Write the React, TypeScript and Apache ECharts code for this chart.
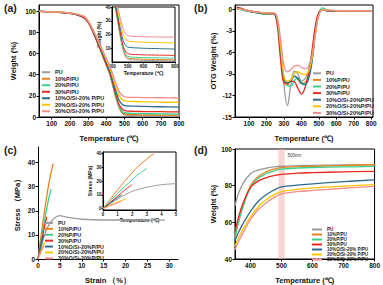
import React, { useEffect, useRef } from 'react';
import * as echarts from 'echarts';

const FONT = "'Liberation Sans', Arial, Helvetica, sans-serif";

const namesA = ['PU', '10%P/PU', '20%P/PU', '30%P/PU', '10%O/Si-20% P/PU', '20%O/Si-20% P/PU', '30%O/Si-20% P/PU'];
const namesB = ['PU', '10%P/PU', '20%P/PU', '30%P/PU', '10%O/Si-20%P/PU', '20%O/Si-20%P/PU', '30%O/Si-20%P/PU'];
const colors = ['#9b9b9b', '#e8821e', '#3dd08c', '#e82a1f', '#2d6a8c', '#f7c600', '#f48c8c'];

// (a) TGA
const tgaT = [30, 100, 200, 250, 280, 300, 320, 350, 380, 400, 420, 450, 470, 490, 510, 550, 600, 700, 800];
const tgaPU = [100, 99.6, 98, 96, 93.5, 89.5, 83, 71, 58, 49, 40, 20, 9, 3, 1.8, 1.5, 1.2, 1.0, 0.8];
const tga10P = [100, 99.6, 98.2, 96.5, 94.5, 90.5, 84, 72, 59, 50, 41, 21, 10, 4, 2.6, 2.3, 2.0, 1.8, 1.6];
const tga20P = [100, 99.6, 98.2, 96.5, 94, 90, 83.5, 71.5, 58.5, 49.5, 40.5, 21, 10.5, 5, 3.8, 3.4, 3.2, 3.0, 2.8];
const tga30P = [100, 99.6, 98, 96, 93.5, 89.5, 83, 71, 58.5, 50, 41.5, 23, 12, 7, 5.8, 5.4, 5.2, 5.0, 4.8];
const tga10OSi = [100, 99.6, 98.3, 96.5, 94.5, 90.5, 84, 72.5, 60, 52, 43.5, 26, 16, 11.5, 10.6, 10.3, 10.0, 9.7, 9.4];
const tga20OSi = [100, 99.6, 98.5, 97, 95, 91, 85, 74, 62, 54, 46, 30, 20.5, 16, 15, 14.7, 14.4, 14.1, 13.8];
const tga30OSi = [100, 99.6, 98.5, 97, 95, 91, 85, 74.5, 63, 55.5, 48, 33, 24.5, 20, 18.9, 18.6, 18.4, 18.2, 18];
const tgaAll = [tgaPU, tga10P, tga20P, tga30P, tga10OSi, tga20OSi, tga30OSi];

// (b) DTG
const dtgT = [30, 60, 100, 150, 200, 240, 260, 280, 300, 320, 340, 360, 380, 400, 420, 440, 460, 480, 500, 520, 550, 600, 650, 700, 750, 800];
const dtgPU = [0.3, 0.1, -0.2, -0.4, -0.5, -0.5, -1.2, -5, -10.5, -13.4, -10.5, -8.6, -9.0, -10.0, -9.7, -8.6, -6.0, -2.5, -0.4, -0.1, -0.2, -0.3, -0.2, -0.3, -0.2, -0.2];
const dtg10P = [0.2, 0.0, -0.3, -0.5, -0.7, -0.6, -1.6, -6, -10.2, -10.5, -9.8, -9.3, -9.8, -10.3, -10.2, -9.3, -6.8, -2.8, -0.5, -0.1, -0.2, -0.2, -0.2, -0.2, -0.2, -0.2];
const dtg20P = [0.1, -0.1, -0.3, -0.5, -0.7, -0.6, -1.4, -5.5, -9.8, -10.6, -10.7, -9.9, -9.6, -10.2, -10.4, -9.5, -7.2, -3.2, -0.6, 0.2, -0.1, -0.2, -0.2, -0.2, -0.2, -0.2];
const dtg30P = [0.3, 0.1, -0.2, -0.4, -0.6, -0.6, -1.9, -6.8, -10.2, -10.3, -10.0, -10.1, -11.0, -11.8, -11.0, -9.0, -6.0, -2.3, -0.4, -0.1, -0.2, -0.2, -0.3, -0.2, -0.2, -0.2];
const dtg10OSi = [0.2, 0.0, -0.3, -0.5, -0.6, -0.6, -1.4, -5.5, -9.5, -10.2, -10.0, -9.3, -9.6, -10.3, -10.5, -9.8, -7.5, -3.5, -0.7, -0.1, -0.2, -0.2, -0.2, -0.2, -0.2, -0.2];
const dtg20OSi = [0.1, 0.0, -0.2, -0.4, -0.5, -0.5, -1.1, -5, -9.3, -10.0, -9.8, -8.9, -8.7, -9.0, -9.1, -8.7, -7.0, -3.5, -0.8, -0.1, -0.1, -0.2, -0.2, -0.2, -0.2, -0.2];
const dtg30OSi = [0.1, 0.0, -0.2, -0.4, -0.5, -0.5, -1.0, -4, -7.8, -8.7, -8.4, -7.9, -7.8, -8.1, -8.3, -8.0, -6.5, -3.3, -0.8, -0.1, -0.1, -0.2, -0.2, -0.2, -0.2, -0.2];
const dtgAll = [dtgPU, dtg10P, dtg20P, dtg30P, dtg10OSi, dtg20OSi, dtg30OSi];

// (c) stress-strain [strain %, stress MPa]
const ssPU = [[0, 0], [0.5, 3.5], [1, 7], [1.5, 10], [2, 12.5], [3, 15.5], [4, 17.3], [5, 18], [6, 17.6], [8, 17], [10, 16.5], [15, 16.2], [20, 16.2], [25, 16.1], [29, 16.1]];
const ss10P = [[0, 0], [0.5, 7], [1, 13.5], [1.5, 20], [2, 26], [2.5, 31.5], [3, 36], [3.3, 38.5], [3.5, 39.5]];
const ss20P = [[0, 0], [0.5, 5.5], [1, 11], [1.5, 16], [2, 21], [2.5, 25.5], [3, 29]];
const ss30P = [[0, 0], [0.5, 4.5], [1, 9], [1.5, 13.5], [2, 17.5]];
const ss10OSi = [[0, 0], [0.5, 4], [1, 8], [1.3, 10]];
const ss20OSi = [[0, 0], [0.5, 2.5], [1, 4.8], [1.6, 7]];
const ss30OSi = [[0, 0], [0.5, 2.2], [1, 4.2], [1.3, 5.5]];
const ssAll = [ssPU, ss10P, ss20P, ss30P, ss10OSi, ss20OSi, ss30OSi];

// (d)
const dT = [350, 360, 375, 400, 425, 450, 475, 500, 550, 600, 700, 800];
const dPU = [69, 75, 81, 86.5, 88.5, 89.5, 90.2, 90.6, 90.9, 91.1, 91.3, 91.5];
const d10P = [52, 60, 69, 80, 85, 87.5, 89, 89.8, 90.3, 90.6, 91, 91.4];
const d20P = [51, 59, 68, 79, 84, 86.5, 88, 89, 89.6, 89.9, 90.2, 90.5];
const d30P = [55, 62, 70, 79, 82.5, 84.3, 85.5, 86.2, 86.8, 87.1, 87.5, 87.8];
const d10OSi = [50, 54, 59, 66, 71.5, 75, 77.5, 79.3, 80.3, 81, 82.2, 83.2];
const d20OSi = [47, 51, 56, 63, 68.5, 72.3, 75, 76.8, 78, 78.8, 79.8, 80.6];
const d30OSi = [45, 49, 54, 61.5, 67, 70.5, 73.5, 75.5, 76.7, 77.4, 78.6, 79.6];
const dAll = [dPU, d10P, d20P, d30P, d10OSi, d20OSi, d30OSi];
const band = [490, 510];

const ticksA = [100, 200, 300, 400, 500, 600, 700, 800];
const ticksAy = [0, 20, 40, 60, 80, 100];
const ticksAinX = [400, 500, 600, 700, 800];
const ticksAinY = [10, 20, 30, 40];
const ticksBy = [-15, -12, -9, -6, -3, 0];
const ticksCx = [0, 5, 10, 15, 20, 25, 30];
const ticksCy = [0, 10, 20, 30, 40];
const ticksCinX = [0, 1, 2, 3, 4, 5];
const ticksDx = [400, 500, 600, 700, 800];
const ticksDy = [40, 60, 80, 100];

const zip = (xs: number[], ys: number[]) => xs.map((x, i) => [x, ys[i]]);

function axis(gridIndex: number, min: number, max: number, ticks: number[], name: string, nameGap: number, small = false) {
  return {
    type: 'value', gridIndex, min, max,
    splitLine: { show: false },
    axisLine: { show: true, onZero: false, lineStyle: { color: '#000', width: 1 } },
    axisTick: { show: true, length: small ? 1.5 : 2.5, customValues: ticks, lineStyle: { color: '#000', width: 1 } },
    axisLabel: { customValues: ticks, fontSize: small ? 4.5 : 6.5, fontWeight: 'bold', color: '#111', margin: small ? 1.5 : 3, fontFamily: FONT },
    name, nameGap, nameLocation: 'middle',
    nameTextStyle: { fontSize: small ? 5 : 7.5, fontWeight: 'bold', color: '#111', fontFamily: FONT },
  };
}

function legend(names: string[], left: number, top: number, fs: number, lh: number, w = 8) {
  return {
    orient: 'vertical', left, top, padding: 0, itemGap: 0, itemWidth: w, itemHeight: 2, icon: 'rect',
    data: names, selectedMode: false,
    textStyle: { fontSize: fs, lineHeight: lh, height: lh, fontWeight: 'bold', color: '#222', fontFamily: FONT, padding: 0 },
  };
}

const labelStyle = (text: string) => ({ text, fontSize: 10.5, fontWeight: 'bold', fontFamily: FONT, fill: '#222' });

const option: any = {
  animation: false,
  backgroundColor: '#fff',
  grid: [
    { left: 39, top: 5, width: 140, height: 112, show: true, borderColor: '#000', borderWidth: 1 },
    { left: 112, top: 7, width: 63, height: 55, show: true, borderColor: '#000', borderWidth: 1 },
    { left: 235, top: 5, width: 138, height: 112, show: true, borderColor: '#000', borderWidth: 1 },
    { left: 38, top: 147, width: 140, height: 114 },
    { left: 103, top: 152, width: 73, height: 58, show: true, borderColor: '#000', borderWidth: 1 },
    { left: 235, top: 149, width: 140, height: 111, show: true, borderColor: '#000', borderWidth: 1 },
  ],
  xAxis: [
    axis(0, 30, 800, ticksA, 'Temperature (℃)', 17),
    axis(1, 400, 800, ticksAinX, 'Temperature (℃)', 8, true),
    axis(2, 20, 810, ticksA, 'Temperature (℃)', 17),
    axis(3, 0, 32, ticksCx, 'Strain （%）', 17),
    axis(4, 0, 5, ticksCinX, 'Temperature (℃)', 7, true),
    axis(5, 350, 800, ticksDx, 'Temperature (℃)', 17),
  ],
  yAxis: [
    axis(0, 0, 106, ticksAy, 'Weight (%)', 22),
    axis(1, 0, 40, ticksAinY, 'Weight (%)', 9, true),
    axis(2, -15, 0.6, ticksBy, 'OTG Weight (%)', 18),
    axis(3, 0, 46.5, ticksCy, 'Stress （MPa）', 17),
    axis(4, -1, 41, ticksCy, 'Stress (MPa)', 8, true),
    axis(5, 40, 100, ticksDy, 'Weight (%)', 18),
  ],
  legend: [
    legend(namesA, 42, 69, 5.5, 6.5),
    legend(namesB, 313, 70, 5.5, 6.6),
    legend(namesB, 45, 220, 5.3, 5.9),
    legend(namesA, 312, 227, 4.6, 3.8, 10),
  ],
  graphic: [
    { type: 'text', left: 4, top: 2, style: labelStyle('(a)') },
    { type: 'text', left: 194, top: 2, style: labelStyle('(b)') },
    { type: 'text', left: 4, top: 144, style: labelStyle('(c)') },
    { type: 'text', left: 194, top: 144, style: labelStyle('(d)') },
  ],
  series: [] as any[],
};

const lineBase = (name: string, color: string, x: number, y: number, data: any[], w = 1.3, smooth: any = 0.3) => ({
  type: 'line', name, xAxisIndex: x, yAxisIndex: y, data, showSymbol: false, symbol: 'none', smooth,
  lineStyle: { color, width: w }, itemStyle: { color }, clip: true,
});

namesA.forEach((n, i) => option.series.push(lineBase(n, colors[i], 0, 0, zip(tgaT, tgaAll[i]))));
namesA.forEach((n, i) => option.series.push(lineBase(n, colors[i], 1, 1, zip(tgaT, tgaAll[i]), 1)));
namesB.forEach((n, i) => option.series.push(lineBase(n, colors[i], 2, 2, zip(dtgT, dtgAll[i]), 1.3, 0.4)));
namesB.forEach((n, i) => option.series.push(lineBase(n, colors[i], 3, 3, ssAll[i], 1.3, 0.3)));
namesB.forEach((n, i) => option.series.push(lineBase(n, colors[i], 4, 4, ssAll[i], 1, 0.3)));
namesA.forEach((n, i) => {
  const s: any = lineBase(n, colors[i], 5, 5, zip(dT, dAll[i]), 1.3, 0.4);
  if (i === 0) {
    s.markArea = {
      silent: true,
      itemStyle: { color: 'rgba(244,170,170,0.5)' },
      label: { show: true, position: [9, 4], formatter: '500nm', fontSize: 4.5, color: '#333', fontFamily: FONT },
      data: [[{ xAxis: band[0] }, { xAxis: band[1] }]],
    };
  }
  option.series.push(s);
});

export default function App() {
  const ref = useRef<HTMLDivElement>(null);
  useEffect(() => {
    const chart = echarts.init(ref.current!, null, { renderer: 'svg' });
    chart.setOption(option);
    return () => chart.dispose();
  }, []);
  return <div ref={ref} style={{ position: 'fixed', left: 0, top: 0, width: 383, height: 285, background: '#fff' }} />;
}
